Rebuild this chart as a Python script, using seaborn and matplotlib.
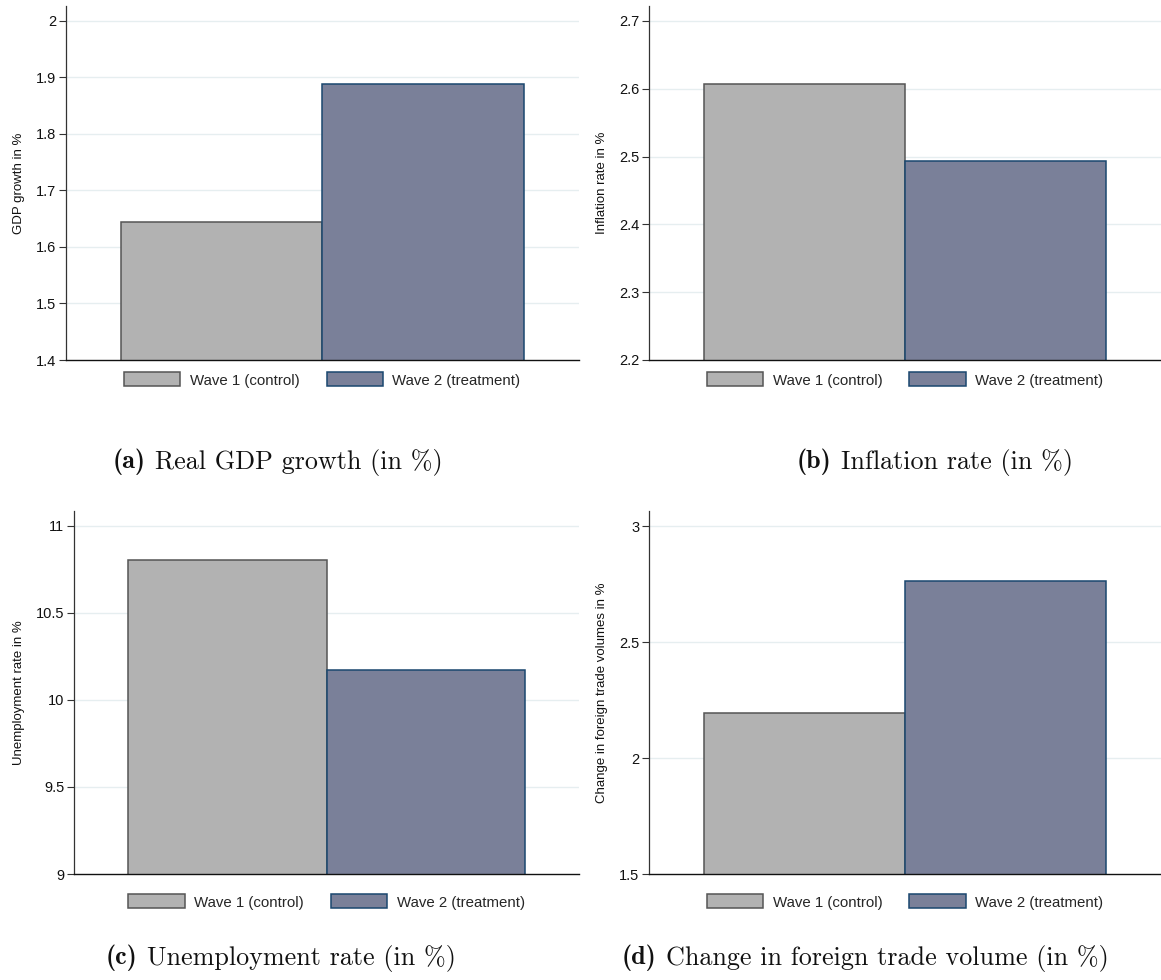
import matplotlib
matplotlib.use("Agg")
import matplotlib.pyplot as plt
from matplotlib.patches import Patch
import seaborn as sns
import pandas as pd

# ---------------- data ----------------
waves = ["Wave 1 (control)", "Wave 2 (treatment)"]
gdp_growth = [1.645, 1.889]
inflation = [2.607, 2.494]
unemployment = [10.807, 10.175]
trade_change = [2.196, 2.765]

ylabels = ["GDP growth in %", "Inflation rate in %",
           "Unemployment rate in %", "Change in foreign trade volumes in %"]
yticks_a = [1.4, 1.5, 1.6, 1.7, 1.8, 1.9, 2.0]
yticks_b = [2.2, 2.3, 2.4, 2.5, 2.6, 2.7]
yticks_c = [9.0, 9.5, 10.0, 10.5, 11.0]
yticks_d = [1.5, 2.0, 2.5, 3.0]
yticklabels_a = ["1.4", "1.5", "1.6", "1.7", "1.8", "1.9", "2"]
yticklabels_b = ["2.2", "2.3", "2.4", "2.5", "2.6", "2.7"]
yticklabels_c = ["9", "9.5", "10", "10.5", "11"]
yticklabels_d = ["1.5", "2", "2.5", "3"]
caption_tags = ["(a)", "(b)", "(c)", "(d)"]
caption_texts = ["Real GDP growth (in %)", "Inflation rate (in %)",
                 "Unemployment rate (in %)", "Change in foreign trade volume (in %)"]

# ---------------- style ----------------
sns.set_style("white")
plt.rcParams["font.family"] = ["Liberation Sans", "DejaVu Sans"]

FILL = ["#b2b2b2", "#7a8099"]
EDGE = ["#555555", "#1a476f"]
GRID = "#e6eef0"

W, H = 1161, 980
fig = plt.figure(figsize=(W / 100, H / 100), dpi=100)


def px_axes(left, right, top, bottom):
    return fig.add_axes([left / W, 1 - bottom / H, (right - left) / W, (bottom - top) / H])


panels = [
    dict(vals=gdp_growth, ylab=ylabels[0], ticks=yticks_a, tl=yticklabels_a,
         ylim=(1.4, 2.0265), box=(65.7, 579, 6, 360), leg=-20),
    dict(vals=inflation, ylab=ylabels[1], ticks=yticks_b, tl=yticklabels_b,
         ylim=(2.2, 2.722), box=(649, 1161, 6, 360), leg=-20),
    dict(vals=unemployment, ylab=ylabels[2], ticks=yticks_c, tl=yticklabels_c,
         ylim=(9.0, 11.086), box=(74, 579, 511, 874), leg=-28),
    dict(vals=trade_change, ylab=ylabels[3], ticks=yticks_d, tl=yticklabels_d,
         ylim=(1.5, 3.065), box=(649, 1161, 511, 874), leg=-28),
]

for p in panels:
    l, r, t, b = p["box"]
    ax = px_axes(l, r, t, b)
    df = pd.DataFrame({"grp": ["all", "all"], "wave": waves, "value": p["vals"]})
    sns.barplot(data=df, x="grp", y="value", hue="wave", hue_order=waves,
                palette=FILL, saturation=1, width=0.8, ax=ax, legend=False,
                errorbar=None, zorder=3)
    for cont, ec in zip(ax.containers, EDGE):
        for bar in cont:
            bar.set_edgecolor(ec)
            bar.set_linewidth(1.1)
    ax.set_xlim(-0.51, 0.51)
    ax.set_ylim(*p["ylim"])
    ax.set_xticks([])
    ax.set_xlabel("")
    ax.set_yticks(p["ticks"])
    ax.set_yticklabels(p["tl"], fontsize=10.5, color="#111111")
    ax.set_ylabel(p["ylab"], fontsize=9.5, labelpad=8, color="#111111")
    ax.tick_params(axis="y", length=5, width=0.8, color="#333333", pad=2, left=True)
    for tk in p["ticks"][1:]:
        ax.axhline(tk, color=GRID, lw=1.0, zorder=0)
    for s in ["top", "right"]:
        ax.spines[s].set_visible(False)
    ax.spines["left"].set_color("#333333")
    ax.spines["left"].set_linewidth(0.9)
    ax.spines["bottom"].set_color("#111111")
    ax.spines["bottom"].set_linewidth(1.0)
    ax.spines["bottom"].set_zorder(4)
    handles = [Patch(facecolor=FILL[i], edgecolor=EDGE[i], linewidth=1.1, label=waves[i])
               for i in range(2)]
    ax.legend(handles=handles, loc="center", bbox_to_anchor=(0.5, p["leg"] / (b - t)),
              ncol=2, frameon=False, fontsize=10.8, handlelength=3.75, handleheight=1.05,
              handletextpad=0.63, columnspacing=1.8, borderaxespad=0)

# ---------------- captions (bold tag + roman text, Computer Modern) ----------------
CAP_FS = 18.8
renderer = fig.canvas.get_renderer()
cap_pos = [(278, 462), (935, 462), (281, 958), (865, 958)]
for (cx, cy), tag, txt in zip(cap_pos, caption_tags, caption_texts):
    t1 = fig.text(0, 1 - cy / H, tag, ha="left", va="center", fontsize=CAP_FS,
                  family="cmb10", color="#111111")
    t2 = fig.text(0, 1 - cy / H, txt, ha="left", va="center", fontsize=CAP_FS,
                  family="cmr10", color="#111111")
    w1 = t1.get_window_extent(renderer).width
    w2 = t2.get_window_extent(renderer).width
    gap = 0.36 * CAP_FS * 100 / 72
    x0 = cx - (w1 + gap + w2) / 2
    t1.set_x(x0 / W)
    t2.set_x((x0 + w1 + gap) / W)

fig.savefig("out.png", dpi=100)
